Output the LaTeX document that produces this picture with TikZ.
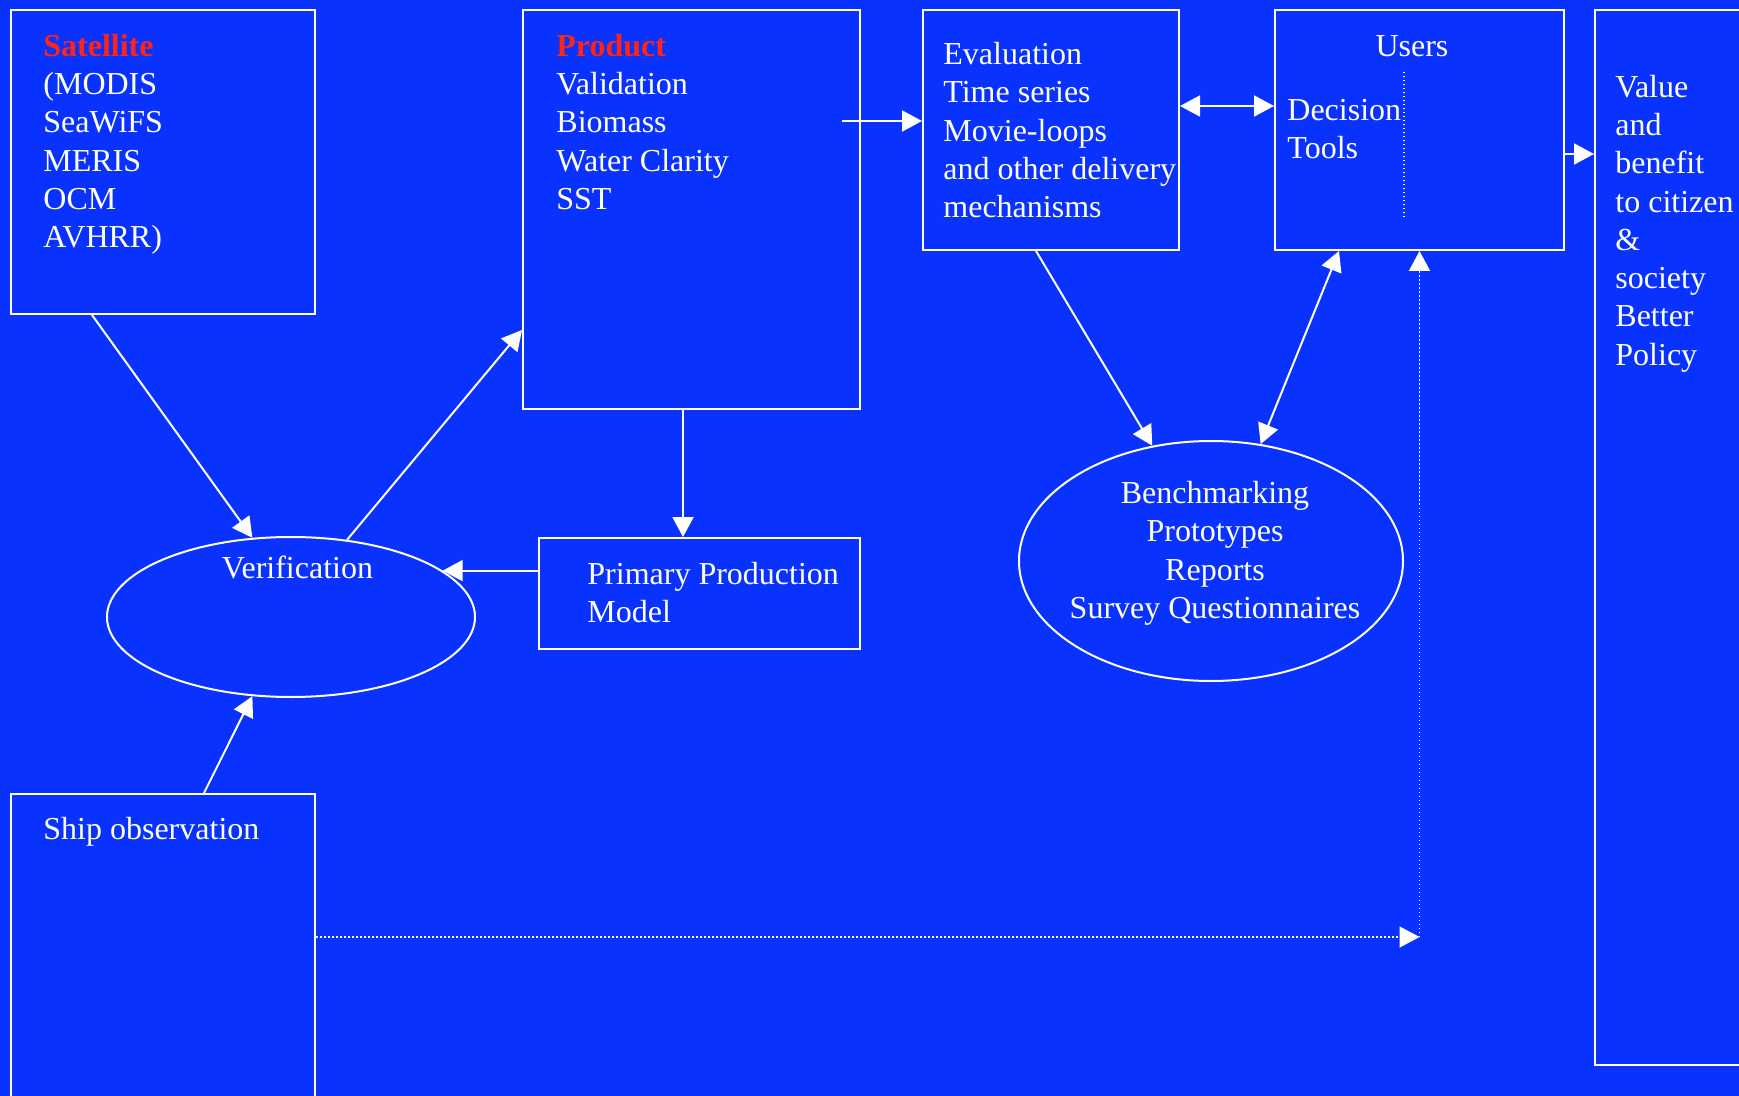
\documentclass[tikz,border=0pt]{standalone}
\usepackage{fontspec}
\setmainfont{Liberation Serif}
\usetikzlibrary{arrows.meta,shapes.geometric}
\definecolor{bgblue}{RGB}{10,50,255}
\definecolor{lblred}{RGB}{255,36,20}
\begin{document}
\begin{tikzpicture}[x=0.5pt,y=-0.5pt,
  box/.style={draw=white, line width=1pt, inner sep=0pt, rectangle},
  oval/.style={draw=white, line width=1pt, inner sep=0pt, ellipse},
  txt/.style={text=white, inner sep=0pt, font=\fontsize{16}{19.15}\selectfont, align=left},
  ctxt/.style={txt, align=center},
  conn/.style={draw=white, line width=1pt},
  arr/.style={conn, -{Triangle[length=10pt,width=10.5pt]}},
  dblarr/.style={conn, {Triangle[length=10pt,width=10.5pt]}-{Triangle[length=10pt,width=10.5pt]}},
  dotln/.style={draw=white, line width=0.7pt, dash pattern=on 0.75pt off 1.25pt},
  dotarr/.style={dotln, -{Triangle[length=10pt,width=10.5pt]}}
]
\fill[bgblue] (0,0) rectangle (1739,1096);
\useasboundingbox (0,0) rectangle (1739,1096);

% boxes
\node[box, minimum width=152pt, minimum height=152pt] (sat) at (163,162) {};
\node[box, minimum width=168.5pt, minimum height=199.5pt] (prod) at (691.5,209.5) {};
\node[box, minimum width=128pt, minimum height=120pt] (eval) at (1051,130) {};
\node[box, minimum width=144.5pt, minimum height=120pt] (users) at (1419.5,130) {};
\node[box, minimum width=82.5pt, minimum height=527.5pt] (value) at (1677.5,537.5) {};
\node[box, minimum width=160.5pt, minimum height=55.5pt] (pp) at (699.5,593.5) {};
\node[box, minimum width=152pt, minimum height=163pt] (ship) at (163,957) {};
\node[oval, minimum width=184pt, minimum height=80pt] (verif) at (291,617) {};
\node[oval, minimum width=192pt, minimum height=120pt] (bench) at (1211,561) {};

% texts
\node[txt, anchor=north west] (sattxt) at (43,33.5)
  {{\color{lblred}\textbf{Satellite}}\\(MODIS\\SeaWiFS\\MERIS\\OCM\\AVHRR)};
\node[txt, anchor=north west] (prodtxt) at (556,33.5)
  {{\color{lblred}\textbf{Product}}\\Validation\\Biomass\\Water Clarity\\SST};
\node[txt, anchor=north west] (evaltxt) at (943,42)
  {Evaluation\\Time series\\Movie-loops\\and other delivery\\mechanisms};
\node[txt, anchor=base] (userstxt) at (1412,57) {Users};
\node[txt, anchor=north west] (dectxt) at (1287,98.5) {Decision\\Tools};
\node[txt, anchor=north west] (valtxt) at (1615,74.5)
  {Value\\and\\benefit\\to citizen\\\&\\society\\Better\\Policy};
\node[txt, anchor=base] (veriftxt) at (297.5,578) {Verification};
\node[txt, anchor=north west] (pptxt) at (587,562) {Primary Production\\Model};
\node[txt, anchor=base west] (shiptxt) at (43,839.5) {Ship observation};
\node[ctxt, anchor=north] (benchtxt) at (1215,481)
  {Benchmarking\\Prototypes\\Reports\\Survey Questionnaires};

% connectors
\draw[arr] ([xshift=-35.5pt]sat.south) -- (verif.116.6);
\draw[arr] (verif.54.7) -- ([yshift=-60.25pt]prod.west);
\coordinate (pdown) at ([xshift=-4.25pt]prod.south);
\draw[arr] (pdown) -- (pdown |- pp.north);
\draw[arr] (verif.17.5 -| pp.west) -- (verif.17.5);
\draw[arr] ([xshift=20.5pt]ship.north) -- (verif.244);
\coordinate (evin) at ([yshift=4.5pt]eval.west);
\draw[arr] ([xshift=-40pt]evin) -- (evin);
\coordinate (evr) at ([yshift=12pt]eval.east);
\draw[dblarr] (evr) -- (evr -| users.west);
\coordinate (usr) at ([yshift=-12pt]users.east);
\draw[arr] (usr) -- (usr -| value.west);
\draw[arr] ([xshift=-7.5pt]eval.south) -- (bench.117.5);
\draw[dblarr] (bench.67.6) -- ([xshift=-40.25pt]users.south);
\coordinate (shipdot) at ([yshift=10pt]ship.east);
\coordinate (corner) at (shipdot -| users.south);
\draw[dotarr] (shipdot) -- (corner);
\draw[dotarr] (corner) -- (users.south);
\draw[dotln] ([xshift=-7.75pt,yshift=-31.5pt]users.north) -- ([xshift=-7.75pt,yshift=16.5pt]users.south);
\end{tikzpicture}
\end{document}
